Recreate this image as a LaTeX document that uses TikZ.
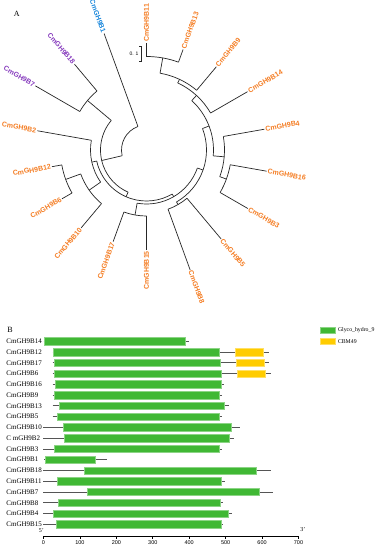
\documentclass[tikz,border=0pt]{standalone}
\usepackage{fontspec}
\setmainfont{Liberation Serif}
\setsansfont{Liberation Sans}
\definecolor{gh}{RGB}{64,184,52}
\definecolor{cbm}{RGB}{255,204,0}
\definecolor{orng}{RGB}{245,125,35}
\definecolor{blu}{RGB}{25,135,220}
\definecolor{purp}{RGB}{135,60,190}
\definecolor{lgray}{RGB}{85,85,85}
\newcommand\trArc[3]{\draw[br] (#1:#3) arc[start angle=#1, end angle=#2, radius=#3pt];}
\newcommand\trRad[3]{\draw[br] (#1:#2) -- (#1:#3);}
\newcommand\leafRt[5]{\draw[br] (#1:#2) -- (#1:#3);
  \node[lab,#5,anchor=west,rotate=#1] (#4) at (#1:#3) {CmGH9#4};}
\newcommand\leafLt[5]{\draw[br] (#1:#2) -- (#1:#3);
  \node[lab,#5,anchor=east,rotate=#1-180] (#4) at (#1:#3) {CmGH9#4};}
\newcommand\rowB[6]{%
  \pgfmathsetmacro\yy{-(341.3+10.76*#1)}
  \node[rowlab,anchor=west] (r#1) at (6.2,\yy) {#2};
  \draw[pline] (#3,\yy) -- (#4,\yy);
  \draw[gbar] (#5,\yy-3.7) rectangle (#6,\yy+3.7);}
\newcommand\cbmB[3]{%
  \pgfmathsetmacro\yy{-(341.3+10.76*#1)}
  \draw[ybar] (#2,\yy-3.7) rectangle (#3,\yy+3.7);}
\begin{document}
\begin{tikzpicture}[x=1pt,y=1pt,
  br/.style={draw=black!85, line width=0.7pt},
  lab/.style={font=\sffamily\bfseries\fontsize{7}{8}\selectfont, inner sep=1pt, orng},
  rowlab/.style={font=\fontsize{7}{8}\selectfont, inner sep=0pt},
  pline/.style={draw=lgray, line width=0.8pt},
  gbar/.style={fill=gh, draw=gh!60!white, line width=0.4pt},
  ybar/.style={fill=cbm, draw=cbm!60!white, line width=0.4pt},
  tick/.style={font=\sffamily\fontsize{5.5}{6}\selectfont, inner sep=0pt},
  panel/.style={font=\fontsize{8}{9}\selectfont, inner sep=0pt}]
\useasboundingbox[fill=white] (0,0) rectangle (378,-550);
\node[panel] (A) at (16.7,-14.2) {A};
% ---------------- tree ----------------
\begin{scope}[shift={(146.5,-150)}]
% arcs of internal nodes
\trArc{110}{193.2}{25}
\trArc{140}{246.4}{46}
\trArc{130}{150}{77}
\trArc{192.5}{300.25}{51}
\trArc{170}{215}{56}
\trArc{200}{230}{70}
\trArc{190}{210}{86}
\trArc{260}{340.5}{54}
\trArc{250}{270}{66}
\trArc{-60}{21}{60}
\trArc{-70}{-50}{63}
\trArc{-5}{47.5}{67}
\trArc{-20}{10}{78}
\trArc{-30}{-10}{85}
\trArc{30}{65}{74}
\trArc{50}{80}{78}
\trArc{70}{90}{93.5}
% internal radial branches
\trRad{193.2}{25}{46}
\trRad{140}{46}{77}
\trRad{246.4}{46}{51}
\trRad{192.5}{51}{56}
\trRad{300.25}{51}{54}
\trRad{215}{56}{70}
\trRad{200}{70}{86}
\trRad{260}{54}{66}
\trRad{340.5}{54}{60}
\trRad{300}{60}{63}
\trRad{21}{60}{67}
\trRad{-5}{67}{78}
\trRad{-20}{78}{85}
\trRad{47.5}{67}{74}
\trRad{65}{74}{78}
\trRad{80}{78}{93.5}
% leaves
\leafLt{110}{25}{124}{B1}{blu}
\leafLt{130}{77}{112}{B18}{purp}
\leafLt{150}{77}{128.4}{B7}{purp}
\leafLt{170}{56}{110.8}{B2}{orng}
\leafLt{190}{86}{96}{B12}{orng}
\leafLt{210}{86}{97.6}{B6}{orng}
\leafLt{230}{70}{101.6}{B10}{orng}
\leafLt{250}{66}{97.5}{B17}{orng}
\leafLt{270}{66}{100}{B15}{orng}
\leafRt{-70}{63}{127.6}{B8}{orng}
\leafRt{-50}{63}{116}{B5}{orng}
\leafRt{-30}{85}{117}{B3}{orng}
\leafRt{-10}{85}{122}{B16}{orng}
\leafRt{10}{78}{119.7}{B4}{orng}
\leafRt{30}{74}{116.7}{B14}{orng}
\leafRt{50}{78}{108.7}{B9}{orng}
\leafRt{70}{93.5}{107}{B13}{orng}
\leafRt{90}{93.5}{107}{B11}{orng}
\end{scope}
% scale bar
\coordinate (sbt) at (141.7,-46);
\coordinate (sbb) at (141.7,-61.7);
\draw[br] ([xshift=-2.3pt]sbt) -- (sbt) -- (sbb) -- ([xshift=-2.3pt]sbb);
\node[font=\sffamily\fontsize{5}{6}\selectfont, inner sep=0pt, anchor=east] (sbl) at (138.6,-53.5) {0. 1};
% ---------------- panel B ----------------
\node[panel] (B) at (10,-330) {B};
\rowB{0}{CmGH9B14}{43.5}{189}{44.3}{185.3}
\rowB{1}{CmGH9B12}{52.5}{269.3}{53.3}{219.3}
\rowB{2}{CmGH9B17}{52.7}{269.3}{54}{220}
\rowB{3}{CmGH9B6}{52.7}{271}{54}{220.7}
\rowB{4}{CmGH9B16}{52.7}{224}{55}{220.7}
\rowB{5}{CmGH9B9}{52.7}{222.3}{54.3}{219.3}
\rowB{6}{CmGH9B13}{52.7}{228.7}{59.3}{224}
\rowB{7}{CmGH9B5}{52.7}{221.7}{57}{218.7}
\rowB{8}{CmGH9B10}{43.3}{240}{62.7}{230.7}
\rowB{9}{C mGH9B2}{43.3}{234.3}{64}{228.7}
\rowB{10}{CmGH9B3}{43.3}{222}{54.3}{219}
\rowB{11}{CmGH9B1}{44.3}{106.7}{45.3}{94.7}
\rowB{12}{CmGH9B18}{43.3}{270.7}{84.3}{256}
\rowB{13}{CmGH9B11}{43.3}{225}{56.7}{221}
\rowB{14}{CmGH9B7}{43.3}{272.7}{86.7}{259}
\rowB{15}{CmGH9B8}{43.3}{222.7}{57.7}{219.7}
\rowB{16}{CmGH9B4}{43.3}{231.7}{53.3}{227.7}
\rowB{17}{CmGH9B15}{43.3}{223.3}{56}{221}
\cbmB{1}{235.3}{263.3}
\cbmB{2}{235.7}{264}
\cbmB{3}{237}{265}
% axis
\coordinate (ax0) at (43.5,-536);
\coordinate (ax1) at (298.5,-536);
\draw[line width=0.6pt] (ax0) -- (ax1);
\foreach \k in {0,...,7}{
  \pgfmathsetmacro\xx{43.5+36.43*\k}
  \pgfmathtruncatemacro\lab{100*\k}
  \draw[line width=0.6pt] (\xx,-536) -- (\xx,-538.6);
  \node[tick] (t\k) at (\xx,-542.9) {\lab};
}
\node[font=\fontsize{6}{7}\selectfont, inner sep=0pt] (p5) at (41.3,-530.5) {5'};
\node[font=\fontsize{6}{7}\selectfont, inner sep=0pt] (p3) at (302.8,-529.5) {3'};
% legend
\draw[gbar] (320,-327.3) rectangle (335.3,-333.3);
\node[font=\fontsize{5.8}{7}\selectfont, inner sep=0pt, anchor=west] (lg1) at (337.8,-330.3) {Glyco\_hydro\_9};
\draw[ybar] (320,-338.3) rectangle (335.3,-344.3);
\node[font=\fontsize{5.8}{7}\selectfont, inner sep=0pt, anchor=west] (lg2) at (337.8,-341.3) {CBM49};
\end{tikzpicture}
\end{document}
